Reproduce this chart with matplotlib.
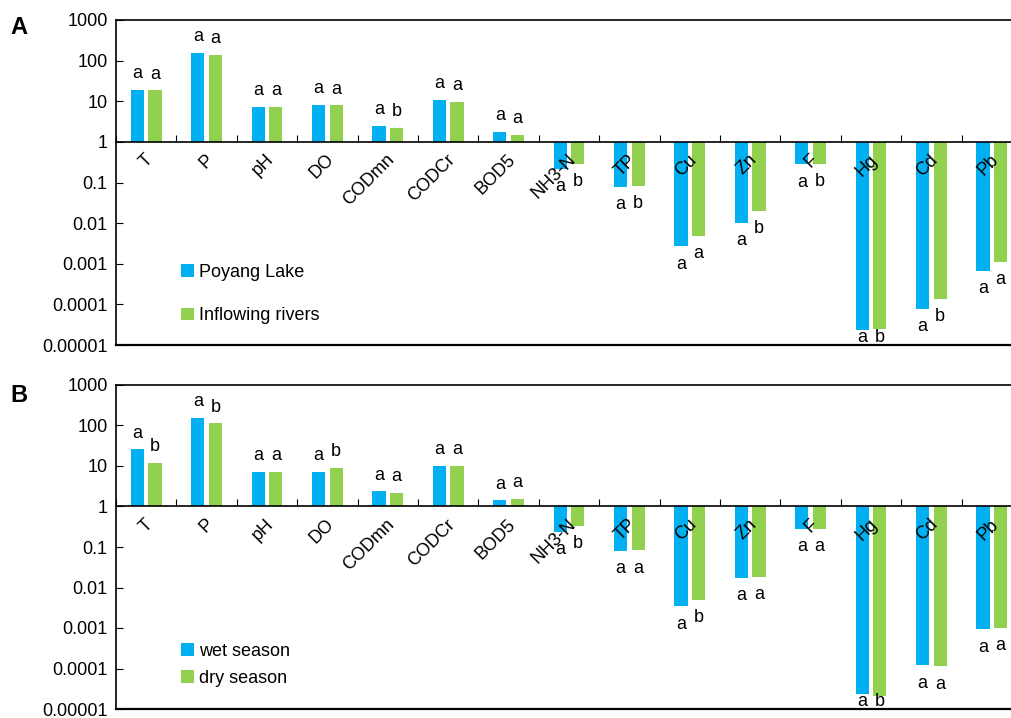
import numpy as np
import matplotlib
matplotlib.use("Agg")
import matplotlib.pyplot as plt
import matplotlib.transforms as mtransforms

plt.rcParams['font.family'] = ['Liberation Sans', 'DejaVu Sans']

# =====================================
# Data
# =====================================
params = ['T', 'P', 'pH', 'DO', 'CODmn', 'CODCr', 'BOD5', 'NH3-N',
          'TP', 'Cu', 'Zn', 'F', 'Hg', 'Cd', 'Pb']

lake = [19, 152, 7.3, 8.1, 2.5, 11, 1.73, 0.22,
        0.079, 0.0027, 0.0103, 0.28, 0.0000234, 0.0000774, 0.00068]
rivers = [18.5, 137, 7.3, 7.9, 2.2, 9.8, 1.46, 0.29,
          0.083, 0.0048, 0.020, 0.29, 0.0000244, 0.000135, 0.0011]
lake_let = ['a', 'a', 'a', 'a', 'a', 'a', 'a', 'a', 'a', 'a', 'a', 'a', 'a', 'a', 'a']
rivers_let = ['a', 'a', 'a', 'a', 'b', 'a', 'a', 'b', 'b', 'a', 'b', 'b', 'b', 'b', 'a']

wet = [25.7, 157, 7.1, 7.1, 2.35, 10, 1.41, 0.235,
       0.079, 0.0034, 0.0174, 0.28, 0.000024, 0.00012, 0.00093]
dry = [11.9, 113, 7.1, 8.9, 2.18, 10, 1.52, 0.33,
       0.083, 0.0050, 0.018, 0.28, 0.0000215, 0.000114, 0.001]
wet_let = ['a'] * 15
dry_let = ['b', 'b', 'a', 'b', 'a', 'a', 'a', 'b', 'a', 'b', 'a', 'a', 'b', 'a', 'a']

yticks = [1e3, 1e2, 1e1, 1, 1e-1, 1e-2, 1e-3, 1e-4, 1e-5]
ytick_labels = ['1000', '100', '10', '1', '0.1', '0.01', '0.001', '0.0001', '0.00001']

BLUE = '#00B0F0'
GREEN = '#92D050'
FS = 13


def panel(ax, v1, v2, l1, l2, names, lab_space, leg_anchor):
    x = np.arange(len(params))
    off, w = 0.145, 0.22
    ax.bar(x - off, np.array(v1) - 1, bottom=1, width=w, color=BLUE, label=names[0])
    ax.bar(x + off, np.array(v2) - 1, bottom=1, width=w, color=GREEN, label=names[1])
    ax.set_yscale('log')
    ax.set_ylim(1e-5, 1e3)
    ax.set_xlim(-0.5, len(params) - 0.5)

    # significance letters
    for xs, vals, lets in ((x - off, v1, l1), (x + off, v2, l2)):
        for xi, v, t in zip(xs, vals, lets):
            if v >= 1:
                y = v * 10 ** 0.4
            else:
                y = max(v / 10 ** 0.44, 1.55e-5)
            ax.text(xi, y, t, ha='center', va='center', fontsize=FS)

    ax.set_yticks(yticks)
    ax.set_yticklabels(ytick_labels)
    ax.yaxis.set_minor_locator(matplotlib.ticker.NullLocator())
    ax.tick_params(axis='y', direction='in', length=5, labelsize=FS, pad=6)

    # x axis on the y=1 line
    ax.spines['bottom'].set_position(('data', 1))
    ax.spines['right'].set_visible(False)
    ax.axhline(1e-5, color='black', lw=1.6, clip_on=False)
    ax.set_xticks(np.arange(len(params) + 1) - 0.5)
    ax.set_xticklabels([])
    ax.set_xticks(x, minor=True)
    ax.set_xticklabels(params, minor=True, rotation=45, ha='right',
                       va='center', rotation_mode='anchor', fontsize=FS)
    ax.tick_params(axis='x', which='major', direction='in', length=5)
    ax.tick_params(axis='x', which='minor', length=0, pad=11)
    shift = mtransforms.ScaledTranslation(4 / 100, 0, ax.figure.dpi_scale_trans)
    for lab in ax.xaxis.get_minorticklabels():
        lab.set_transform(lab.get_transform() + shift)

    for s in ('left', 'top', 'bottom'):
        ax.spines[s].set_linewidth(1.2)

    ax.legend(loc='upper left', bbox_to_anchor=leg_anchor, bbox_transform=ax.figure.transFigure,
              frameon=False, fontsize=FS, handlelength=0.7, handleheight=0.7,
              handletextpad=0.3, labelspacing=lab_space, borderpad=0)


fig = plt.figure(figsize=(10.12, 7.18), dpi=100)
ax1 = fig.add_axes([116 / 1012, 1 - 345 / 718, 906 / 1012, 325 / 718])
ax2 = fig.add_axes([116 / 1012, 1 - 709 / 718, 906 / 1012, 324 / 718])

panel(ax1, lake, rivers, lake_let, rivers_let, ['Poyang Lake', 'Inflowing rivers'],
      1.45, (172 / 1012, 1 - 255 / 718))
panel(ax2, wet, dry, wet_let, dry_let, ['wet season', 'dry season'],
      0.55, (172 / 1012, 1 - 634 / 718))

fig.text(10 / 1012, 1 - 27 / 718, 'A', fontsize=17, fontweight='bold', va='center')
fig.text(10 / 1012, 1 - 395 / 718, 'B', fontsize=17, fontweight='bold', va='center')

fig.savefig('out.png', dpi=100)
